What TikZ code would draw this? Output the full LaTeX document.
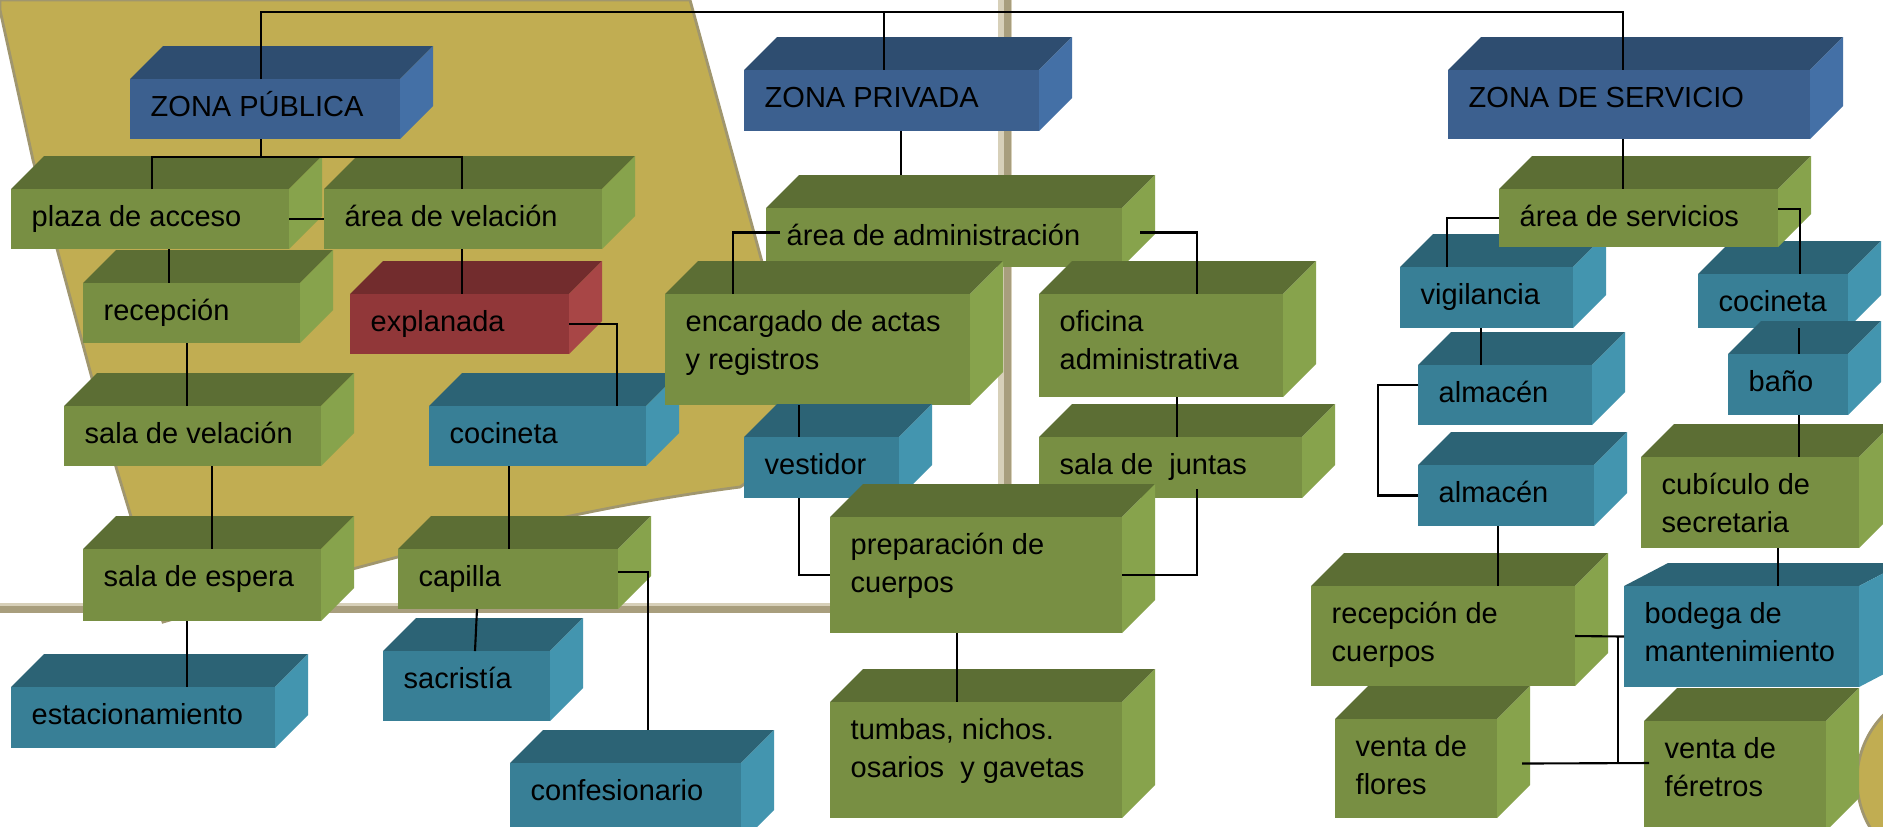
\documentclass[tikz,border=0pt]{standalone}
\usepackage{fontspec}
\setmainfont{Liberation Sans}
\usepackage{tikz}
\usetikzlibrary{calc}
\definecolor{azulF}{RGB}{60,96,143}
\definecolor{azulT}{RGB}{46,77,112}
\definecolor{azulL}{RGB}{68,112,166}
\definecolor{verdeF}{RGB}{120,143,67}
\definecolor{verdeT}{RGB}{92,110,52}
\definecolor{verdeL}{RGB}{135,163,76}
\definecolor{tealF}{RGB}{56,127,150}
\definecolor{tealT}{RGB}{44,99,117}
\definecolor{tealL}{RGB}{67,149,175}
\definecolor{rojoF}{RGB}{145,55,57}
\definecolor{rojoT}{RGB}{114,44,45}
\definecolor{rojoL}{RGB}{168,70,70}
\definecolor{oro}{RGB}{193,173,82}
\definecolor{oroborde}{RGB}{160,150,110}
\definecolor{barra}{RGB}{168,158,125}
\definecolor{barraclara}{RGB}{215,208,185}
\newcommand{\hondox}{33}
\newcommand{\hondoy}{33}
\newcommand{\caja}[7]{%
  \fill[#2T] (#3,#4) -- ++(\hondox,-\hondoy) -- ++(#5,0) -- ++(-\hondox,\hondoy) -- cycle;
  \fill[#2L] (#3+#5,#4) -- ++(\hondox,-\hondoy) -- ++(0,#6) -- ++(-\hondox,\hondoy) -- cycle;
  \node[frente, fill=#2F, minimum width=#5*0.01cm, minimum height=#6*0.01cm] (#1) at (#3,#4) {};
  \node[texto] (#1t) at (#3+20,#4+37) {\begin{tabular}[t]{@{}l@{}}#7\end{tabular}};
}

\begin{document}
\begin{tikzpicture}[x=0.01cm, y=-0.01cm,
  frente/.style={draw=none, rectangle, inner sep=0pt, outer sep=0pt, anchor=north west},
  texto/.style={anchor=base west, inner sep=0pt, font=\fontsize{8.25}{10.8}\selectfont},
  linea/.style={line width=0.6pt}]
\useasboundingbox (0,0) rectangle (1883,826);
\clip (0,0) rectangle (1883,826);
\fill[white] (0,0) rectangle (1883,826);
\fill[oro, draw=oroborde, line width=0.8pt] (0,0) -- (690,0) -- (778,320) .. controls (790,370) and (770,470) .. (740,487) .. controls (560,510) and (380,560) .. (163,622) -- (116,467) -- (33,160) -- (0,10) -- cycle;
\fill[barraclara] (998,0) rectangle (1012,600);
\fill[barra] (1004,0) rectangle (1011,600);
\fill[barra] (0,603) rectangle (840,613);
\fill[barraclara] (0,603) rectangle (840,606);
\fill[oro, draw=oroborde, line width=0.8pt] (1950,780) circle (93);

\caja{zpu}{azul}{130}{79}{270}{60}{ZONA PÚBLICA}
\caja{zpr}{azul}{744}{70}{295}{61}{ZONA PRIVADA}
\caja{zse}{azul}{1448}{70}{362}{69}{ZONA DE SERVICIO}

\caja{pa}{verde}{11}{189}{278}{60}{plaza de acceso}
\caja{av}{verde}{324}{189}{278}{60}{área de velación}
\caja{re}{verde}{83}{283}{217}{60}{recepción}
\caja{ex}{rojo}{350}{294}{219}{60}{explanada}
\caja{sv}{verde}{64}{406}{257}{60}{sala de velación}
\caja{co1}{teal}{429}{406}{217}{60}{cocineta}
\caja{se}{verde}{83}{549}{238}{72}{sala de espera}
\caja{cp}{verde}{398}{549}{220}{60}{capilla}
\caja{es}{teal}{11}{687}{264}{61}{estacionamiento}
\caja{sa}{teal}{383}{651}{167}{70}{sacristía}
\caja{cf}{teal}{510}{763}{231}{80}{confesionario}

\caja{ad}{verde}{766}{208}{356}{59}{área de administración}
\caja{en}{verde}{665}{294}{305}{111}{encargado de actas\\y registros}
\caja{of}{verde}{1039}{294}{244}{103}{oficina\\administrativa}
\caja{ve}{teal}{744}{437}{155}{61}{vestidor}
\caja{sj}{verde}{1039}{437}{263}{61}{sala de~~juntas}
\caja{pr}{verde}{830}{517}{292}{116}{preparación de\\cuerpos}
\caja{tu}{verde}{830}{702}{292}{116}{tumbas, nichos.\\osarios~~y gavetas}

\caja{vi}{teal}{1400}{267}{173}{61}{vigilancia}
\caja{co2}{teal}{1698}{274}{150}{54}{cocineta}
\caja{as}{verde}{1499}{189}{279}{58}{área de servicios}
\caja{al1}{teal}{1418}{365}{174}{60}{almacén}
\caja{ba}{teal}{1728}{354}{120}{61}{baño}
\caja{al2}{teal}{1418}{465}{176}{61}{almacén}
\caja{cu}{verde}{1641}{457}{218}{91}{cubículo de\\secretaria}
\caja{rc}{verde}{1311}{586}{264}{100}{recepción de\\cuerpos}
\renewcommand{\hondox}{44}\renewcommand{\hondoy}{23}
\caja{bo}{teal}{1624}{586}{235}{101}{bodega de\\mantenimiento}
\renewcommand{\hondox}{33}\renewcommand{\hondoy}{33}
\caja{vf}{verde}{1335}{719}{162}{99}{venta de\\flores}
\caja{vr}{verde}{1644}{721}{182}{110}{venta de\\féretros}

\coordinate (bus) at (884,12);
\draw[linea] (261,0 |- zpu.north) |- (bus) -| (1623,0 |- zse.north);
\draw[linea] (bus) -- (bus |- zpr.north);
\coordinate (j1) at (261,157);
\draw[linea] (261,0 |- zpu.south) -- (j1);
\draw[linea] (152,0 |- pa.north) |- (462,157) -- (462,0 |- av.north);
\draw[linea] (pa.east) -- (av.west);
\draw[linea] (169,0 |- pa.south) -- (169,0 |- re.north);
\draw[linea] (187,0 |- re.south) -- (187,0 |- sv.north);
\draw[linea] (212,0 |- sv.south) -- (212,0 |- se.north);
\draw[linea] (187,0 |- se.south) -- (187,0 |- es.north);
\draw[linea] (462,0 |- av.south) -- (462,0 |- ex.north);
\draw[linea] (ex.east) -| (617,0 |- co1.north);
\draw[linea] (509,0 |- co1.south) -- (509,0 |- cp.north);
\draw[linea] (477,0 |- cp.south) -- (475,0 |- sa.north);
\draw[linea] ($(cp.east)+(0,-7)$) -| ($(648,0 |- cf.north)+(0,-33)$);

\draw[linea] (901,0 |- zpr.south) -- ($(901,0 |- ad.north)+(0,-33)$);
\draw[linea] ($(ad.west)+(14,-5)$) -| (733,0 |- en.north);
\draw[linea] ($(ad.east)+(18,-5)$) -| (1197,0 |- of.north);
\draw[linea] (799,0 |- en.south) -- (799,0 |- ve.north);
\draw[linea] (1177,0 |- of.south) -- (1177,0 |- sj.north);
\draw[linea] (799,0 |- ve.south) |- (pr.west);
\draw[linea] ($(1197,0 |- sj.south)+(0,-9)$) |- (pr.east);
\draw[linea] (957,0 |- pr.south) -- (957,0 |- tu.north);

\draw[linea] (1623,0 |- zse.south) -- (1623,0 |- as.north);
\draw[linea] (as.west) -| (1447,0 |- vi.north);
\draw[linea] ($(as.east)+(0,-9)$) -| (1800,0 |- co2.north);
\draw[linea] (1481,0 |- vi.south) -- (1481,0 |- al1.north);
\draw[linea] ($(al1.west)+(0,-10)$) -- ++(-40,0) |- (al2.west);
\draw[linea] (1498,0 |- al2.south) -- (1498,0 |- rc.north);
\draw[linea] (1799,0 |- co2.south) -- (1799,0 |- ba.north);
\draw[linea] (1799,0 |- ba.south) -- (1799,0 |- cu.north);
\draw[linea] (1778,0 |- cu.south) -- (1778,0 |- bo.north);
\draw[linea] (rc.east) -- (bo.west);
\coordinate (nudo) at (1618,763);
\draw[linea] (1618,0 |- rc.east) -- (nudo);
\draw[linea] ($(vf.east)+(25,-5)$) -- ($(vr.west)+(5,-13)$);
\end{tikzpicture}
\end{document}
